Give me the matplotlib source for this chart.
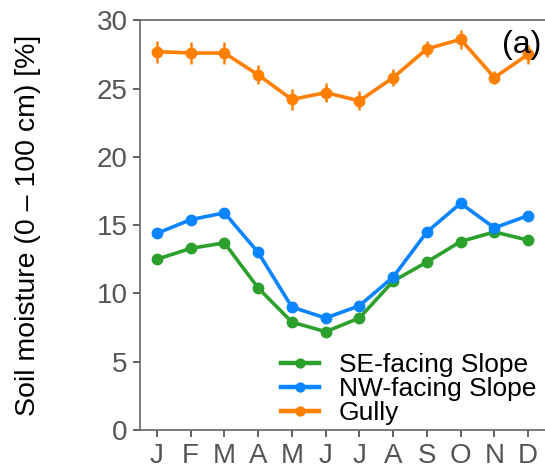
import matplotlib.pyplot as plt

plt.rcParams['font.family'] = ['Liberation Sans', 'DejaVu Sans']

months = ["J", "F", "M", "A", "M", "J", "J", "A", "S", "O", "N", "D"]
se_slope = [12.5, 13.3, 13.7, 10.4, 7.9, 7.2, 8.2, 10.9, 12.3, 13.8, 14.5, 13.9]
nw_slope = [14.4, 15.4, 15.9, 13.0, 9.0, 8.2, 9.1, 11.2, 14.5, 16.6, 14.8, 15.7]
gully = [27.7, 27.6, 27.6, 26.0, 24.2, 24.7, 24.1, 25.8, 27.9, 28.6, 25.8, 27.5]
gully_err = [0.8, 0.8, 0.8, 0.7, 0.8, 0.7, 0.7, 0.6, 0.6, 0.7, 0.5, 0.7]

x = list(range(1, 13))
grey = "#555555"

fig = plt.figure(figsize=(5.45, 4.70), dpi=100)
ax = fig.add_axes([0.257, 0.085, 0.743, 0.872])

ax.plot(x, se_slope, color="#2ca02c", lw=2.6, marker="o", ms=7.5, label="SE-facing Slope")
ax.plot(x, nw_slope, color="#0a84ff", lw=2.6, marker="o", ms=7.5, label="NW-facing Slope")
ax.errorbar(x, gully, yerr=gully_err, fmt="none", ecolor="#ff7f00", elinewidth=1.8, capsize=0)
ax.plot(x, gully, color="#ff7f00", lw=2.6, marker="o", ms=7.5, label="Gully")

ax.set_xlim(0.5, 12.5)
ax.set_ylim(0, 30)
ax.set_yticks([0, 5, 10, 15, 20, 25, 30])
ax.set_xticks(x)
ax.set_xticklabels(months)
ax.tick_params(axis="both", colors=grey, labelsize=20, length=5, width=1.3,
               labelcolor=grey, pad=4)
for s in ["left", "bottom", "top"]:
    ax.spines[s].set_color("#666666")
    ax.spines[s].set_linewidth(1.2)
ax.spines["right"].set_visible(False)

ax.set_ylabel("Soil moisture (0 \u2013 100 cm) [%]", fontsize=20.5, color="black")
ax.yaxis.set_label_coords(-0.245, 0.5)
ax.text(0.99, 0.977, "(a)", transform=ax.transAxes, ha="right", va="top", fontsize=23)

leg = ax.legend(loc="lower right", bbox_to_anchor=(0.985, 0.006), frameon=False, fontsize=19,
                handlelength=1.45, labelspacing=0.0, borderpad=0.1, borderaxespad=0.0,
                handletextpad=0.75, markerscale=0.85)
for line in leg.get_lines():
    line.set_linewidth(3.2)

fig.savefig("out.png", dpi=100)
